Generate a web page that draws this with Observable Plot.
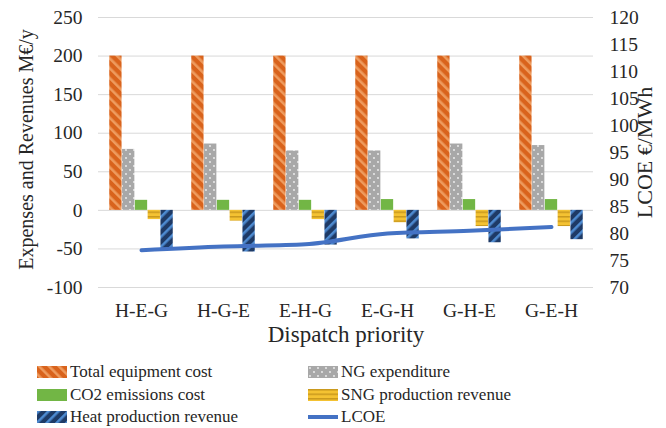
<!DOCTYPE html>
<html><head><meta charset="utf-8">
<script src="https://cdn.jsdelivr.net/npm/d3@7"></script>
<script src="https://cdn.jsdelivr.net/npm/@observablehq/plot@0.6"></script>
<style>
body{margin:0;background:#fff;font-family:"Liberation Serif","Times New Roman","DejaVu Serif",serif;}
#legend{position:relative;width:666px;height:70px;}
.item{position:absolute;display:flex;align-items:center;font-size:17px;color:#262626;height:20px;white-space:nowrap;}
.item svg{margin-right:3px;}
svg text{font-family:"Liberation Serif","Times New Roman","DejaVu Serif",serif;}
</style></head><body><div id="chart"></div><div id="legend"></div>
<script>
const categories = ["H-E-G","H-G-E","E-H-G","E-G-H","G-H-E","G-E-H"];
const totalEquipment = [200,200,200,200,200,200];
const ngExpenditure = [79,86,77,77,86,84];
const co2Cost = [13,13,13,14,14,14];
const sngRevenue = [-12,-14,-12,-16,-21,-21];
const heatRevenue = [-50,-54,-45,-37,-42,-38];
const lcoe = [76.9,77.6,78.0,80.0,80.5,81.2];
const leftTicks = [-100,-50,0,50,100,150,200,250];
const rightTicks = [70,75,80,85,90,95,100,105,110,115,120];
const seriesNames = ["Total equipment cost","NG expenditure","CO2 emissions cost","SNG production revenue","Heat production revenue","LCOE"];

const FONT = '"Liberation Serif","Times New Roman","DejaVu Serif",serif';
const W = 666, H = 358, mL = 98, mR = 73, mT = 17, mB = H - 287;
const toLeft = v => -100 + (v - 70) * 7;
const toRight = d => String(Math.round(70 + (d + 100) / 7));

function addPatterns(svg, prefix) {
  const defs = svg.append("defs");
  let p = defs.append("pattern").attr("id", prefix+"0").attr("patternUnits","userSpaceOnUse")
    .attr("width",7).attr("height",7).attr("patternTransform","rotate(-45)");
  p.append("rect").attr("width",7).attr("height",7).attr("fill","#D9631C");
  p.append("rect").attr("width",2.6).attr("height",7).attr("fill","#EE9B5E");
  p = defs.append("pattern").attr("id", prefix+"1").attr("patternUnits","userSpaceOnUse")
    .attr("width",8).attr("height",8);
  p.append("rect").attr("width",8).attr("height",8).attr("fill","#A8A8A8");
  p.append("circle").attr("cx",2).attr("cy",2).attr("r",0.9).attr("fill","#f2f2f2");
  p.append("circle").attr("cx",6).attr("cy",6).attr("r",0.9).attr("fill","#f2f2f2");
  p = defs.append("pattern").attr("id", prefix+"2").attr("patternUnits","userSpaceOnUse")
    .attr("width",4).attr("height",4);
  p.append("rect").attr("width",4).attr("height",4).attr("fill","#72B645");
  p = defs.append("pattern").attr("id", prefix+"3").attr("patternUnits","userSpaceOnUse")
    .attr("width",4).attr("height",4.5);
  p.append("rect").attr("width",4).attr("height",4.5).attr("fill","#F4C232");
  p.append("rect").attr("width",4).attr("height",1.5).attr("fill","#C9991E");
  p = defs.append("pattern").attr("id", prefix+"4").attr("patternUnits","userSpaceOnUse")
    .attr("width",7).attr("height",7).attr("patternTransform","rotate(45)");
  p.append("rect").attr("width",7).attr("height",7).attr("fill","#1E3A66");
  p.append("rect").attr("width",2.6).attr("height",7).attr("fill","#4D8AD0");
}

const barSeries = [totalEquipment, ngExpenditure, co2Cost, sngRevenue, heatRevenue];
const bw = (W - mL - mR) / categories.length;
const groupW = 64, barW = groupW / barSeries.length;

const barMarks = barSeries.map((vals, i) => {
  const left = (bw - groupW) / 2 + i * barW;
  return Plot.barY(categories.map((c, j) => ({cat: c, v: vals[j]})), {
    x: "cat", y: "v", fill: `url(#pat${i})`,
    insetLeft: left, insetRight: bw - left - barW
  });
});

const lineData = categories.map((c, j) => ({cat: c, v: lcoe[j]}));

const chart = Plot.plot({
  width: W, height: H,
  marginLeft: mL, marginRight: mR, marginTop: mT, marginBottom: mB,
  style: {fontFamily: FONT, fontSize: "19.5px", color: "#262626", background: "#fff"},
  x: {domain: categories, padding: 0, label: null},
  y: {domain: [-100, 250], label: null},
  marks: [
    Plot.ruleY(leftTicks, {stroke: "#d9d9d9", strokeWidth: 1}),
    ...barMarks,
    Plot.line(lineData, {x: "cat", y: d => toLeft(d.v), stroke: "#4472C4", strokeWidth: 4, curve: "monotone-x"}),
    Plot.axisY(leftTicks, {anchor: "left", tickSize: 0, tickPadding: 16, tickFormat: d => String(d), label: null, fontFamily: FONT}),
    Plot.axisY(rightTicks.map(toLeft), {anchor: "right", tickSize: 0, tickPadding: 16, tickFormat: toRight, label: null, fontFamily: FONT}),
    Plot.axisX({tickSize: 0, tickPadding: 16, label: null, fontFamily: FONT}),
    Plot.text(["Dispatch priority"], {frameAnchor: "bottom", dy: 47, textAnchor: "middle", lineAnchor: "middle", fontSize: 23, fill: "#262626", fontFamily: FONT}),
    Plot.text(["Expenses and Revenues M€/y"], {frameAnchor: "left", dx: -72, dy: -3, textAnchor: "middle", lineAnchor: "middle", rotate: -90, fontSize: 20, fill: "#262626", fontFamily: FONT}),
    Plot.text(["LCOE €/MWh"], {frameAnchor: "right", dx: 51, textAnchor: "middle", lineAnchor: "middle", rotate: -90, fontSize: 22, fill: "#262626", fontFamily: FONT})
  ]
});
addPatterns(d3.select(chart), "pat");
document.getElementById("chart").appendChild(chart);

// legend
const legend = d3.select("#legend");
const legPos = [[37,372],[308,372],[37,395],[308,395],[37,417],[308,417]];
seriesNames.forEach((name, i) => {
  const [x, y] = legPos[i];
  const item = legend.append("div").attr("class","item")
    .style("left", x + "px").style("top", (y - H - 10) + "px");
  const s = item.append("svg").attr("width", 30).attr("height", 12);
  if (i < 5) {
    addPatterns(s, "leg" + i + "_");
    s.append("rect").attr("width", 30).attr("height", 12).attr("fill", `url(#leg${i}_${i})`);
  } else {
    s.append("line").attr("x1",0).attr("x2",30).attr("y1",6).attr("y2",6)
      .attr("stroke","#4472C4").attr("stroke-width",4);
  }
  item.append("span").text(name);
});
</script></body></html>
